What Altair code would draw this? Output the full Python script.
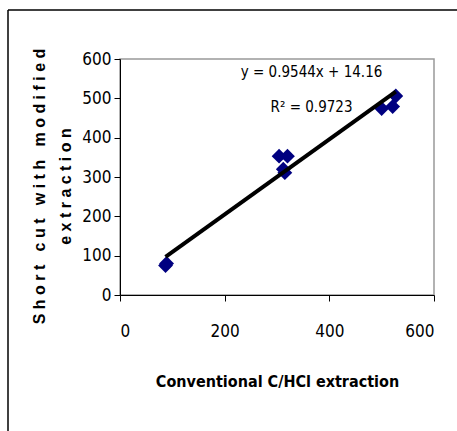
import altair as alt
import pandas as pd

conv = [87, 89, 304, 320, 312, 315, 500, 521, 527]
short = [75, 80, 353, 353, 320, 311, 474, 479, 506]
slope = 0.9544
intercept = 14.16
line_x = [87, 527]
eq_text = ["y = 0.9544x + 14.16", "R² = 0.9723"]
eq_x = [366, 366]
eq_y = [566, 477]

pts = pd.DataFrame({"x": conv, "y": short})
ln = pd.DataFrame({"x": line_x, "y": [slope * v + intercept for v in line_x]})
ann = pd.DataFrame({"x": eq_x, "y": eq_y, "t": eq_text})

FONT = "Liberation Sans Narrow, DejaVu Sans Condensed, Liberation Sans"
NB = "\u00a0"


def spaced(s):
    return " ".join(NB if c == " " else c for c in s)


xs = alt.Scale(domain=[0, 600], nice=False)
ys = alt.Scale(domain=[0, 600], nice=False)

xax = alt.Axis(values=[0, 200, 400, 600], title="Conventional C/HCl extraction",
               grid=False, domainColor="black", tickColor="black", tickSize=6,
               labelFont=FONT, labelFontSize=17, labelColor="black", labelPadding=22,
               labelOverlap=False,
               titleFont=FONT, titleFontSize=16, titleFontWeight="bold", titleColor="black",
               titlePadding=34)
yax = alt.Axis(values=[0, 100, 200, 300, 400, 500, 600],
               title=[spaced("Short cut with modified"), spaced("extraction")],
               grid=False, domainColor="black", tickColor="black", tickSize=6,
               labelFont=FONT, labelFontSize=17, labelColor="black", labelPadding=3,
               labelOverlap=False,
               titleFont="Liberation Sans", titleFontSize=16, titleFontWeight="bold",
               titleColor="black", titlePadding=8, titleLineHeight=26, titleY=127)

points = alt.Chart(pts).mark_point(shape="diamond", filled=True, color="#000080",
                                   size=220, opacity=1).encode(
    x=alt.X("x:Q", scale=xs, axis=xax), y=alt.Y("y:Q", scale=ys, axis=yax))
line = alt.Chart(ln).mark_line(color="black", strokeWidth=4).encode(
    x=alt.X("x:Q", scale=xs, axis=xax), y=alt.Y("y:Q", scale=ys, axis=yax))
text = alt.Chart(ann).mark_text(font=FONT, fontSize=15, color="black").encode(
    x=alt.X("x:Q", scale=xs, axis=xax), y=alt.Y("y:Q", scale=ys, axis=yax), text="t:N")

frame_top = alt.Chart(pd.DataFrame({"a": [0]})).mark_rule(color="black", strokeWidth=1.5, clip=False).encode(
    x=alt.value(-112), x2=alt.value(340), y=alt.value(-49))
frame_left = alt.Chart(pd.DataFrame({"a": [0]})).mark_rule(color="black", strokeWidth=1.5, clip=False).encode(
    x=alt.value(-112), y=alt.value(-49), y2=alt.value(380))

chart = alt.layer(points, line, text, frame_top, frame_left).properties(
    width=314, height=236, autosize=alt.AutoSizeParams(type="none"),
    padding={"left": 120, "top": 59, "right": 23, "bottom": 136},
    background="white"
).configure_view(stroke="#999999", strokeWidth=1.5)

chart.save("out.html", embed_options={"renderer": "svg", "actions": False})
